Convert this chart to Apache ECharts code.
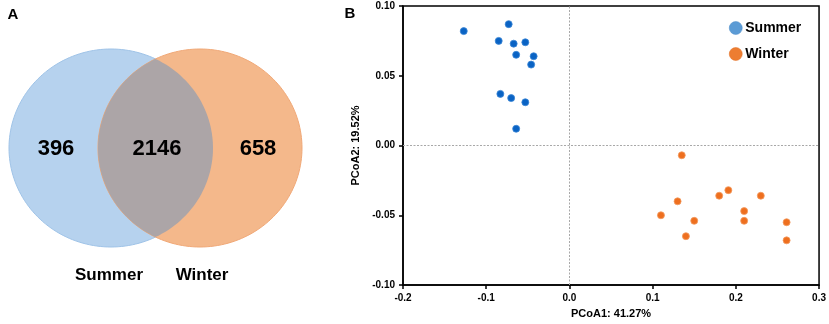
<!DOCTYPE html>
<html><head><meta charset="utf-8">
<script src="https://cdn.jsdelivr.net/npm/echarts@6/dist/echarts.min.js"></script>
<style>html,body{margin:0;padding:0;background:#fff}#c{width:829px;height:324px}</style>
</head><body><div id="c"></div>
<script>
// Venn (panel A)
var vennSets = ['Summer', 'Winter'];
var vennCounts = [396, 2146, 658]; // summer only, shared, winter only

// PCoA (panel B)
var summerX = [-0.127, -0.073, -0.085, -0.067, -0.053, -0.064, -0.043, -0.046, -0.083, -0.070, -0.053, -0.064];
var summerY = [0.082, 0.087, 0.075, 0.073, 0.074, 0.065, 0.064, 0.058, 0.037, 0.034, 0.031, 0.012];
var winterX = [0.135, 0.130, 0.110, 0.150, 0.140, 0.180, 0.191, 0.230, 0.210, 0.210, 0.261, 0.261];
var winterY = [-0.007, -0.040, -0.050, -0.054, -0.065, -0.036, -0.032, -0.036, -0.047, -0.054, -0.055, -0.068];
var xTicks = [-0.2, 0.3, 0.1];
var yTicks = [-0.1, 0.1, 0.05];
var xTitle = 'PCoA1: 41.27%';
var yTitle = 'PCoA2: 19.52%';

var FONT = '"Liberation Sans", Arial, sans-serif';
function zip(a, b) { return a.map(function (v, i) { return [v, b[i]]; }); }

// ellipse geometry for the Venn
var E1 = {cx: 111, cy: 148, rx: 102, ry: 99};
var E2 = {cx: 200, cy: 148, rx: 102, ry: 99};
function ellipsePts(e, a0, a1, n) {
  var pts = [];
  for (var i = 0; i <= n; i++) {
    var t = a0 + (a1 - a0) * i / n;
    pts.push([e.cx + e.rx * Math.cos(t), e.cy + e.ry * Math.sin(t)]);
  }
  return pts;
}
var xm = (E1.cx + E2.cx) / 2;
var th = Math.acos((xm - E1.cx) / E1.rx);
var lens = ellipsePts(E1, -th, th, 60).concat(ellipsePts(E2, Math.PI - th, Math.PI + th, 60));

var chart = echarts.init(document.getElementById('c'), null, {renderer: 'canvas'});
var txt = function (x, y, s, size, align) {
  return {type: 'text', x: x, y: y, silent: true,
    style: {text: s, font: 'bold ' + size + 'px ' + FONT, fill: '#000', align: align || 'center', verticalAlign: 'middle'}};
};
chart.setOption({
  animation: false,
  graphic: [
    {type: 'polygon', shape: {points: ellipsePts(E1, 0, Math.PI * 2, 180)}, style: {fill: '#b6d2ee', stroke: '#9fc3e7', lineWidth: 1}},
    {type: 'polygon', shape: {points: ellipsePts(E2, 0, Math.PI * 2, 180)}, style: {fill: '#f4b88b', stroke: '#f0a877', lineWidth: 1}},
    {type: 'polygon', shape: {points: lens}, style: {fill: '#aca5a7', stroke: null}},
    txt(56, 149, String(vennCounts[0]), 22),
    txt(157, 149, String(vennCounts[1]), 22),
    txt(258, 149, String(vennCounts[2]), 22),
    txt(109, 275, vennSets[0], 17),
    txt(202, 275, vennSets[1], 17),
    txt(13, 15, 'A', 15),
    txt(350, 14, 'B', 15)
  ],
  legend: {
    left: 724, top: 16, orient: 'vertical', itemGap: 12, itemWidth: 13, itemHeight: 13, icon: 'circle',
    textStyle: {fontFamily: FONT, fontWeight: 'bold', fontSize: 14, color: '#000', padding: [0, 0, 0, -2]},
    data: [
      {name: 'Summer', itemStyle: {color: '#5b9bd5', borderColor: '#4a8bc8', borderWidth: 0.5}},
      {name: 'Winter', itemStyle: {color: '#ed7d31', borderColor: '#e06c20', borderWidth: 0.5}}
    ]
  },
  grid: {left: 403, top: 6, width: 418, height: 282, show: true, borderColor: '#000', borderWidth: 1.5},
  xAxis: {
    type: 'value', min: xTicks[0], max: xTicks[1], interval: xTicks[2],
    name: xTitle, nameLocation: 'middle', nameGap: 23,
    nameTextStyle: {fontFamily: FONT, fontWeight: 'bold', fontSize: 11, color: '#000'},
    axisLine: {onZero: false, lineStyle: {color: '#000', width: 1.5}},
    axisTick: {show: true, length: 4, lineStyle: {color: '#000', width: 1.5}},
    axisLabel: {fontFamily: FONT, fontWeight: 'bold', fontSize: 10, color: '#000', margin: 8,
      formatter: function (v) { return v.toFixed(1); }},
    splitLine: {show: false}
  },
  yAxis: {
    type: 'value', min: yTicks[0], max: yTicks[1], interval: yTicks[2],
    name: yTitle, nameLocation: 'middle', nameGap: 40, nameRotate: 90,
    nameTextStyle: {fontFamily: FONT, fontWeight: 'bold', fontSize: 11, color: '#000'},
    axisLine: {onZero: false, lineStyle: {color: '#000', width: 1.5}},
    axisTick: {show: true, length: 4, lineStyle: {color: '#000', width: 1.5}},
    axisLabel: {fontFamily: FONT, fontWeight: 'bold', fontSize: 10, color: '#000', margin: 8,
      formatter: function (v) { return v.toFixed(2); }},
    splitLine: {show: false}
  },
  series: [
    {name: 'Summer', type: 'scatter', data: zip(summerX, summerY), symbolSize: 7,
      itemStyle: {color: '#0a63c4', borderColor: '#3b86d6', borderWidth: 0.8, opacity: 1},
      markLine: {silent: true, symbol: 'none', label: {show: false},
        lineStyle: {color: '#a8a8a8', type: [2, 1.5], width: 1},
        data: [{xAxis: 0}, {yAxis: 0}]}},
    {name: 'Winter', type: 'scatter', data: zip(winterX, winterY), symbolSize: 7,
      itemStyle: {color: '#ee6f1f', borderColor: '#f39a5f', borderWidth: 0.8, opacity: 1}}
  ]
});
</script></body></html>
